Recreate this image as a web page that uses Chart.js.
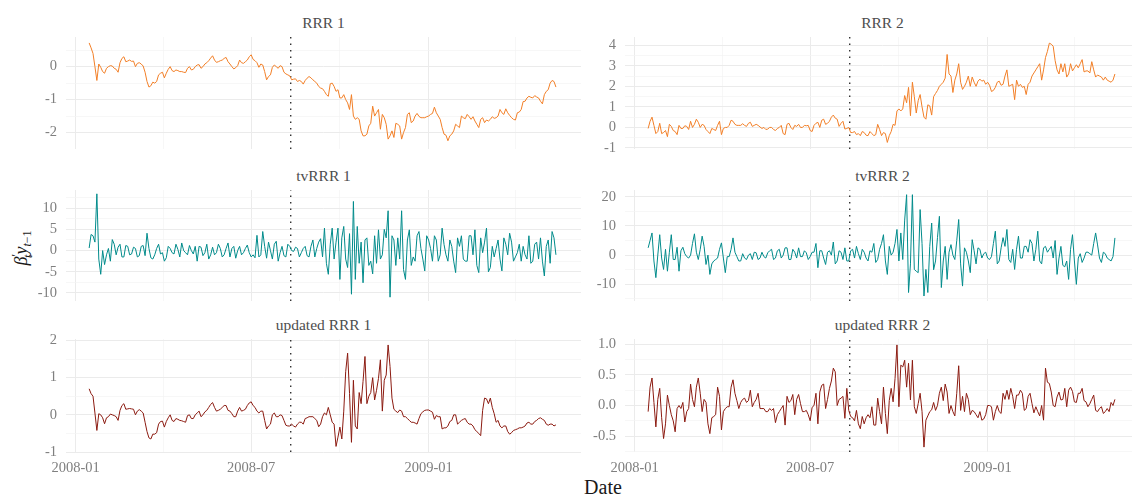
<!DOCTYPE html>
<html>
<head>
<meta charset="utf-8">
<script src="https://cdn.jsdelivr.net/npm/chart.js@4.4.1/dist/chart.umd.min.js"></script>
<style>
  body { margin: 0; width: 1132px; height: 495px; overflow: hidden; background: #fff; position: relative; font-family: 'Liberation Serif', serif; }
  canvas { position: absolute; }
  .ptitle { position: absolute; font-size: 15.5px; color: #4d4d4d; transform: translate(-50%, -50%); white-space: nowrap; }
  #xlab { position: absolute; left: 603px; top: 487px; transform: translate(-50%, -50%); font-size: 20px; color: #1a1a1a; }
  #ylab { position: absolute; left: 22px; top: 248px; transform: translate(-50%, -50%) rotate(-90deg); font-size: 18px; color: #1a1a1a; white-space: nowrap; }
  #ylab sub, #ylab sup { font-size: 12px; }
</style>
</head>
<body>
<div id="titles"></div>
<div id="xlab">Date</div>
<div id="ylab"><i>β</i><sup>′</sup><sub style="margin-left:-4px"><i>t</i></sub><i>y</i><sub><i>t</i>−1</sub></div>

<script>
// dates: days since 2008-01-01, one value every 2 days
const startDay = 14;
const stepDays = 2;
const breakDay = 223;

const xMajor = [0, 182, 366];
const xMinor = [91, 274, 456];
const xLabels = ['2008-01', '2008-07', '2009-01'];

const rrr1 = [0.72,0.57, 0.4,0.0, -0.42,0.08, -0.02,-0.15, -0.2,-0.05,
  0.0,0.03, 0.02,-0.05, -0.08,-0.17, 0.12,0.25, 0.3,0.15,
  0.17,0.2, 0.16,0.17, 0.0,0.1, 0.12,0.08, 0.02,-0.17,
  -0.45,-0.62, -0.58,-0.47, -0.5,-0.45, -0.25,-0.2, -0.17,-0.34,
  -0.2,-0.08, 0.0,-0.12, -0.15,-0.1, -0.12,-0.15, -0.15,-0.17,
  -0.18,-0.05, 0.0,-0.1, -0.08,0.0, 0.05,0.06, -0.05,0.0,
  0.08,0.12, 0.18,0.26, 0.33,0.2, 0.13,0.15, 0.18,0.2,
  0.25,0.28, 0.15,0.08, 0.0,-0.07, -0.03,0.03, 0.2,0.12,
  0.1,0.15, 0.2,0.3, 0.36,0.22, 0.18,0.12, -0.02,0.08,
  0.05,-0.15, -0.4,-0.3, -0.25,-0.02, 0.05,0.0, -0.05,0.03,
  0.0,-0.17, -0.22,-0.25, -0.28,-0.4, -0.38,-0.37, -0.45,-0.42,
  -0.45,-0.53, -0.42,-0.35, -0.3,-0.34, -0.4,-0.45, -0.5,-0.6,
  -0.65,-0.67, -0.75,-0.85, -0.9,-0.52, -0.5,-0.6, -0.75,-0.7,
  -0.95,-0.95, -0.85,-1.0, -1.1,-1.3, -0.85,-1.5, -1.6,-1.55,
  -1.6,-1.95, -2.1,-2.1, -2.05,-1.8, -1.72,-1.2, -1.5,-1.4,
  -1.3,-1.9, -1.45,-1.55, -1.75,-2.2, -2.1,-1.95, -2.15,-1.72,
  -1.75,-1.8, -2.2,-2.0, -1.85,-1.45, -1.4,-1.7, -1.65,-1.5,
  -1.42,-1.51, -1.55,-1.55, -1.55,-1.52, -1.5,-1.45, -1.42,-1.23,
  -1.4,-1.5, -1.6,-1.85, -2.05,-2.08, -2.25,-2.1, -2.05,-1.95,
  -1.75,-1.8, -1.85,-1.5, -1.55,-1.58, -1.45,-1.52, -1.6,-1.52,
  -1.65,-1.75, -1.85,-1.6, -1.55,-1.7, -1.62,-1.65, -1.6,-1.52,
  -1.57,-1.55, -1.5,-1.3, -1.4,-1.45, -1.28,-1.4, -1.48,-1.55,
  -1.6,-1.62, -1.4,-1.38, -1.3,-1.06, -1.05,-0.95, -0.9,-0.93,
  -0.95,-0.88, -0.92,-0.95, -1.05,-1.13, -0.85,-0.75, -0.7,-0.5,
  -0.42,-0.45, -0.62];

const rrr2 = [-0.05,0.3, 0.5,0.1, -0.3,-0.2, 0.2,-0.3, -0.25,-0.15,
  -0.45,0.15, 0.05,-0.15, -0.2,-0.35, 0.1,-0.05, -0.05,0.08,
  0.05,-0.1, 0.3,0.0, 0.15,0.4, 0.25,0.0, 0.15,0.1,
  -0.1,-0.2, -0.3,-0.05, -0.1,-0.15, 0.1,0.3, -0.35,-0.05,
  0.0,0.0, 0.1,0.35, 0.3,0.15, 0.1,0.1, 0.1,0.18,
  0.1,0.05, 0.2,0.25, 0.05,0.1, 0.15,0.1, 0.02,-0.05,
  0.0,-0.1, -0.08,0.0, 0.0,-0.1, -0.15,-0.05, 0.0,0.1,
  -0.3,-0.35, 0.15,0.2, 0.0,-0.1, 0.1,0.05, 0.15,0.0,
  0.0,0.1, 0.08,0.1, -0.15,-0.2, 0.1,0.2, 0.25,0.0,
  0.35,0.4, 0.15,0.2, 0.3,0.5, 0.6,0.45, 0.4,0.05,
  0.2,0.3, -0.08,-0.05, 0.0,-0.25, -0.25,-0.2, -0.35,-0.3,
  -0.4,-0.2, -0.25,-0.38, -0.4,-0.2, -0.3,-0.4, -0.35,0.15,
  -0.1,-0.4, -0.25,-0.3, -0.73,-0.4, -0.2,0.15, 0.1,0.8,
  0.9,0.8, 0.9,1.55, 1.2,1.95, 0.57,2.2, 1.5,0.7,
  1.3,1.6, 1.0,0.5, 0.4,1.1, 1.05,0.6, 1.5,1.65,
  1.8,2.0, 2.1,2.2, 2.4,3.55, 2.6,2.5, 1.7,2.3,
  2.6,3.1, 2.2,1.85, 2.0,2.2, 2.5,2.0, 2.45,2.2,
  2.0,2.25, 2.35,2.25, 2.3,2.1, 2.2,2.05, 1.75,1.8,
  1.95,2.2, 2.25,2.05, 2.1,2.5, 2.8,2.0, 2.05,2.1,
  1.35,2.3, 2.0,2.1, 1.95,2.0, 1.6,2.1, 2.2,2.5,
  2.65,2.8, 2.95,3.1, 2.3,2.8, 3.4,3.7, 4.1,4.05,
  3.95,3.25, 2.8,2.6, 3.1,2.7, 3.1,2.45, 2.6,3.1,
  2.75,2.9, 3.05,2.9, 3.1,3.3, 2.7,2.75, 2.75,2.65,
  3.2,2.8, 2.45,2.55, 2.5,2.45, 2.3,2.45, 2.3,2.25,
  2.2,2.3, 2.6];

const tvrrr1 = [0.6,3.8, 3.5,2.0, 13.4,-2.0, -5.6,0.0, -3.3,-1.0,
  0.5,-2.5, 2.6,1.5, -1.0,0.8, 1.5,-1.5, -1.5,1.2,
  1.0,-1.0, -0.8,0.8, 0.5,-1.5, -1.2,1.0, 1.2,-1.2,
  4.1,0.5, -1.7,-2.0, -1.0,0.5, 1.5,-0.8, -0.5,-2.5,
  -1.7,1.0, 0.5,-0.5, -0.8,1.5, 0.3,-1.5, 1.8,0.0,
  -0.5,-1.0, 1.2,0.0, -0.8,1.0, -2.5,1.0, 0.8,-1.2,
  -0.5,1.5, -2.0,-1.0, 0.8,-1.0, -0.5,1.5, 0.5,-1.5,
  -1.0,0.5, 1.8,-1.5, 0.5,1.0, -1.8,0.0, 1.0,-1.0,
  -0.5,0.5, 1.3,-0.5, -1.5,-1.0, -1.7,3.6, -1.5,-1.0,
  4.5,1.0, -1.8,2.0, 0.0,-2.0, 1.5,2.2, -2.5,-0.5,
  1.0,-1.2, -1.5,1.5, 1.0,0.0, -0.2,0.8, 0.5,-1.5,
  -0.5,0.5, 1.0,-1.2, -1.5,1.0, 2.5,-1.5, 0.5,2.0,
  2.8,-1.5, 5.3,-3.0, -5.6,1.5, 5.3,-2.0, 2.0,5.3,
  -6.8,3.0, 5.7,-2.0, -4.0,4.0, -10.3,11.6, -6.8,5.7,
  -3.0,2.0, -7.6,2.5, 3.0,-3.5, -2.5,-5.5, 3.5,-3.0,
  4.9,-2.0, -1.0,5.0, 3.0,9.4, -11.0,3.5, 2.5,-3.5,
  3.0,-2.0, 9.4,-4.5, -6.8,2.5, 4.9,-3.5, -1.5,-2.5,
  3.5,4.5, 0.5,-2.0, -4.8,3.5, 2.5,0.5, -2.5,3.5,
  2.5,-2.5, -1.0,5.3, 1.4,-1.0, -2.5,2.5, 1.0,-2.5,
  -5.2,3.0, 1.0,3.5, -2.0,-2.5, -2.5,3.5, 3.5,-1.0,
  4.9,-3.5, -5.2,3.0, -0.5,2.0, 5.3,-5.0, -4.0,1.0,
  -1.5,0.5, 2.5,-2.0, -4.8,3.0, 1.5,-1.0, 4.1,2.0,
  -2.5,-1.5, -0.5,1.5, -2.5,1.0, -1.0,-2.0, 3.5,-3.0,
  -2.5,1.5, 2.0,-2.0, 3.0,-2.5, -6.0,1.0, 2.5,-3.0,
  4.5,3.0, -1.0];

const tvrrr2 = [2.5,5.0, 7.6,-2.0, -7.7,0.0, 7.0,-1.0, -4.9,2.0,
  -5.5,1.0, 7.0,-1.5, -1.5,2.7, -5.5,1.5, 2.7,0.5,
  -0.5,-1.0, 0.0,4.0, 7.3,1.0, -1.5,2.0, 6.5,3.0,
  -3.2,0.0, -6.6,-3.0, -2.0,-1.5, -1.0,2.0, 4.2,-1.0,
  -6.0,-0.5, -0.5,2.0, 5.9,1.0, -0.5,-2.0, -2.0,0.5,
  -1.0,-1.5, 0.0,0.5, -1.5,1.0, 0.8,-1.5, -1.0,1.0,
  -0.5,-1.0, 0.8,1.5, 2.0,-1.5, -1.0,1.5, 2.0,-1.0,
  0.0,2.5, 2.5,-1.5, -1.5,2.0, 1.0,-1.0, 2.5,-0.5,
  -0.5,1.5, 0.8,-1.5, -0.5,1.0, 1.0,4.0, -4.3,1.5,
  1.5,-1.0, -3.2,1.0, 1.5,0.0, 4.5,-3.0, -2.0,1.5,
  1.0,-1.5, 2.5,-2.0, -2.0,1.5, 2.0,-1.0, 3.0,0.5,
  -1.5,2.0, 1.0,-1.0, -2.0,1.5, 1.0,4.0, -2.5,-1.5,
  2.0,4.0, 7.0,-2.0, -6.6,3.0, 0.0,1.0, 4.0,8.8,
  -2.0,7.6, -1.5,12.0, 20.7,-12.8, -3.0,20.7, -4.9,-5.5,
  -6.0,15.6, 4.0,-14.0, -4.9,-12.8, 3.0,11.0, -5.0,-2.0,
  6.0,13.3, -11.1,-2.0, 3.0,-8.3, 1.0,3.6, 0.0,-1.5,
  5.0,12.2, -3.0,-10.6, 2.5,1.0, -2.0,-6.0, 5.3,1.5,
  -3.0,2.5, 2.0,-1.0, 0.5,1.0, -1.0,-1.5, -0.5,4.0,
  8.2,-3.0, -2.0,2.5, 6.0,3.0, 8.8,-1.5, -2.5,2.0,
  -4.9,2.0, 6.5,-1.0, -1.0,3.0, 3.0,1.0, 5.3,4.0,
  -2.0,2.0, 8.2,-2.0, -3.0,2.5, 3.0,1.0, 2.0,3.0,
  -1.0,5.0, -6.6,-1.0, 3.0,-3.5, -4.0,-2.0, -8.3,2.0,
  7.0,-2.0, -10.0,-1.0, 0.5,-2.5, -1.0,1.0, 1.0,0.5,
  0.0,4.0, 7.6,3.5, -1.0,-2.5, 1.0,0.5, -1.0,-1.5,
  -2.0,-0.5, 5.9];

const updRrr1 = [0.7,0.57, 0.5,0.05, -0.42,0.03, 0.0,-0.08, -0.24,-0.08,
  -0.05,0.02, 0.0,-0.02, -0.05,-0.15, 0.12,0.25, 0.3,0.15,
  0.16,0.17, 0.16,0.15, 0.0,0.1, 0.14,0.1, 0.05,-0.2,
  -0.45,-0.62, -0.65,-0.52, -0.52,-0.48, -0.25,-0.18, -0.17,-0.33,
  -0.18,-0.08, 0.0,-0.15, -0.18,-0.1, -0.12,-0.15, -0.16,-0.18,
  -0.2,-0.02, 0.0,-0.1, -0.1,0.0, 0.05,0.1, -0.05,0.0,
  0.08,0.12, 0.2,0.28, 0.33,0.2, 0.1,0.12, 0.15,0.2,
  0.25,0.25, 0.12,0.1, 0.03,-0.05, -0.05,0.1, 0.2,0.1,
  0.12,0.15, 0.25,0.32, 0.35,0.25, 0.2,0.1, 0.05,0.1,
  0.1,-0.15, -0.38,-0.3, -0.25,0.0, 0.05,-0.05, -0.05,0.0,
  -0.02,-0.15, -0.28,-0.3, -0.3,-0.25, -0.3,-0.33, -0.25,-0.2,
  -0.2,-0.25, -0.1,-0.08, -0.05,-0.05, -0.05,-0.1, -0.15,-0.32,
  -0.25,-0.05, 0.05,0.0, 0.2,0.0, -0.2,-0.25, -0.85,-0.6,
  -0.33,-0.65, 0.1,1.16, 1.66,0.57, -0.74,0.93, -0.3,-0.38,
  0.6,0.3, 0.9,1.57, 0.3,0.5, 0.6,1.0, 0.4,0.66,
  0.98,1.48, 0.1,0.93, 1.07,1.88, 1.3,0.45, 0.15,0.1,
  0.06,0.13, 0.1,-0.05, -0.05,-0.1, -0.15,-0.2, -0.2,-0.22,
  -0.25,-0.1, 0.03,0.08, 0.12,0.13, 0.13,0.1, 0.07,-0.12,
  -0.02,-0.05, -0.05,-0.38, -0.35,-0.35, -0.3,-0.18, -0.15,0.0,
  0.0,-0.25, -0.2,-0.15, -0.12,-0.1, -0.2,-0.25, -0.25,-0.3,
  -0.4,-0.45, -0.5,-0.56, 0.12,0.45, 0.43,0.3, 0.45,0.2,
  0.03,-0.2, -0.15,-0.3, -0.35,-0.3, -0.3,-0.45, -0.52,-0.48,
  -0.42,-0.4, -0.38,-0.35, -0.35,-0.33, -0.3,-0.22, -0.2,-0.25,
  -0.25,-0.18, -0.15,-0.1, -0.08,-0.12, -0.15,-0.25, -0.28,-0.25,
  -0.25,-0.3, -0.27];

const updRrr2 = [-0.1,0.3, 0.45,0.05, -0.35,0.1, 0.28,-0.2, -0.54,-0.3,
  0.17,0.0, -0.15,-0.25, -0.43,-0.05, 0.0,-0.05, 0.05,-0.27,
  -0.1,-0.05, 0.35,0.1, -0.02,0.3, 0.45,0.2, -0.1,0.1,
  0.05,-0.3, -0.46,-0.2, -0.18,-0.15, 0.3,0.15, -0.4,-0.1,
  -0.05,-0.02, -0.02,0.3, 0.42,0.2, 0.08,-0.05, 0.05,0.1,
  0.12,0.05, 0.08,0.25, -0.02,0.05, 0.1,0.2, -0.05,-0.05,
  -0.05,-0.1, -0.1,-0.05, -0.08,-0.05, -0.28,-0.15, -0.1,-0.05,
  0.0,-0.32, 0.15,0.05, 0.08,0.18, -0.15,0.1, 0.18,0.03,
  -0.1,-0.1, -0.08,-0.15, -0.25,-0.03, 0.0,0.2, -0.3,0.22,
  0.33,0.35, -0.05,0.1, 0.28,0.4, 0.61,0.55, 0.0,0.1,
  0.12,0.15, -0.21,0.28, -0.08,-0.18, -0.2,-0.25, -0.08,-0.3,
  -0.38,-0.18, -0.3,-0.2, -0.15,-0.2, -0.02,-0.32, -0.32,0.12,
  -0.1,-0.3, 0.3,-0.13, -0.46,0.08, 0.28,0.06, 0.44,0.99,
  -0.02,0.66, 0.63,0.74, 0.3,0.69, 0.09,0.74, -0.02,-0.13,
  0.03,0.2, -0.1,-0.68, -0.24,-0.17, -0.1,-0.07, 0.05,-0.08,
  0.0,0.2, 0.3,0.08, 0.35,0.22, -0.13,0.0, -0.1,-0.17,
  0.2,0.65, -0.08,0.15, -0.1,0.2, 0.1,-0.15, -0.08,-0.1,
  -0.15,-0.2, -0.1,-0.24, -0.22,-0.15, 0.0,0.0, -0.02,-0.24,
  -0.1,0.0, -0.1,-0.13, 0.2,0.1, 0.25,0.1, 0.28,0.15,
  -0.05,0.17, 0.17,0.25, 0.2,-0.08, -0.05,0.15, 0.2,0.03,
  -0.12,-0.02, -0.1,-0.17, 0.0,-0.24, 0.61,0.38, 0.36,0.22,
  0.0,-0.02, 0.14,0.22, 0.09,0.1, 0.28,-0.02, 0.25,0.3,
  0.23,0.06, 0.05,0.2, 0.2,0.28, 0.08,0.06, -0.02,0.03,
  0.1,0.17, -0.08,-0.1, -0.05,-0.02, -0.13,-0.1, -0.05,-0.1,
  0.05,0.0, 0.1];

const orange = '#f27f27';
const teal = '#008b8b';
const darkRed = '#8b1a10';

// panel layout: column lefts / axis widths, row tops / plot heights
const colLeft = [0, 560], axisW = [66, 65], plotW = 515;
const rowTop = [37, 190, 339], plotH = [112, 111, 113], xAxisH = [0, 0, 28];
const pad = 20;

const panels = [
  { title: 'RRR 1', data: rrr1, color: orange, col: 0, row: 0, min: -2.5, max: 0.9, majors: [-2, -1, 0], minors: [-1.5, -0.5, 0.5], fmt: v => String(v) },
  { title: 'RRR 2', data: rrr2, color: orange, col: 1, row: 0, min: -1.05, max: 4.4, majors: [-1, 0, 1, 2, 3, 4], minors: [-0.5, 0.5, 1.5, 2.5, 3.5], fmt: v => String(v) },
  { title: 'tvRRR 1', data: tvrrr1, color: teal, col: 0, row: 1, min: -11.9, max: 14.3, majors: [-10, -5, 0, 5, 10], minors: [-7.5, -2.5, 2.5, 7.5, 12.5], fmt: v => String(v) },
  { title: 'tvRRR 2', data: tvrrr2, color: teal, col: 1, row: 1, min: -15.7, max: 22.3, majors: [-10, 0, 10, 20], minors: [-15, -5, 5, 15], fmt: v => String(v) },
  { title: 'updated RRR 1', data: updRrr1, color: darkRed, col: 0, row: 2, min: -1.0, max: 2.04, majors: [-1, 0, 1, 2], minors: [-0.5, 0.5, 1.5], fmt: v => String(v) },
  { title: 'updated RRR 2', data: updRrr2, color: darkRed, col: 1, row: 2, min: -0.76, max: 1.087, majors: [-0.5, 0, 0.5, 1.0], minors: [-0.75, -0.25, 0.25, 0.75], fmt: v => v.toFixed(1) }
];

Chart.defaults.font.family = "'Liberation Serif', serif";
Chart.defaults.font.size = 14.5;
Chart.defaults.color = '#7f7f7f';

function gridColor(majors) {
  return ctx => majors.includes(ctx.tick.value) ? '#ebebeb' : '#f3f3f3';
}
function gridWidth(majors) {
  return ctx => majors.includes(ctx.tick.value) ? 1 : 0.7;
}

function makePanel(p) {
  const canvas = document.createElement('canvas');
  const w = axisW[p.col] + plotW + 4;
  // layout padding sits on both sides; the x axis box is added below the bottom padding
  const h = pad + plotH[p.row] + pad + xAxisH[p.row];
  canvas.width = w;
  canvas.height = h;
  canvas.style.left = colLeft[p.col] + 'px';
  canvas.style.top = (rowTop[p.row] - pad) + 'px';
  document.body.appendChild(canvas);

  const t = document.createElement('div');
  t.className = 'ptitle';
  t.textContent = p.title;
  t.style.left = (colLeft[p.col] + axisW[p.col] + plotW / 2) + 'px';
  t.style.top = (rowTop[p.row] - 14) + 'px';
  document.getElementById('titles').appendChild(t);

  const points = p.data.map((v, i) => ({ x: startDay + i * stepDays, y: v }));
  const showX = p.row === 2;

  new Chart(canvas, {
    type: 'line',
    data: {
      datasets: [
        { data: points, borderColor: p.color, borderWidth: 1, pointRadius: 0, tension: 0 },
        { data: [{ x: breakDay, y: p.min }, { x: breakDay, y: p.max }], borderColor: '#333333', borderWidth: 1.4, borderDash: [1.5, 5], pointRadius: 0 }
      ]
    },
    options: {
      responsive: false,
      animation: false,
      layout: { padding: { top: pad, bottom: pad, left: 0, right: 4 } },
      plugins: { legend: { display: false }, tooltip: { enabled: false } },
      scales: {
        x: {
          type: 'linear',
          min: -10,
          max: 524,
          afterBuildTicks: s => { s.ticks = [...xMajor, ...xMinor].sort((a, b) => a - b).map(v => ({ value: v })); },
          afterFit: s => { s.height = xAxisH[p.row]; },
          ticks: {
            display: showX,
            padding: 7,
            maxRotation: 0,
            autoSkip: false,
            callback: v => { const k = xMajor.indexOf(v); return k >= 0 ? xLabels[k] : ''; }
          },
          grid: { color: gridColor(xMajor), lineWidth: gridWidth(xMajor), drawTicks: false },
          border: { display: false }
        },
        y: {
          min: p.min,
          max: p.max,
          afterBuildTicks: s => { s.ticks = [...p.majors, ...p.minors].sort((a, b) => a - b).map(v => ({ value: v })); },
          afterFit: s => { s.width = axisW[p.col]; },
          ticks: {
            padding: 9,
            autoSkip: false,
            callback: v => p.majors.includes(v) ? p.fmt(v) : ''
          },
          grid: { color: gridColor(p.majors), lineWidth: gridWidth(p.majors), drawTicks: false },
          border: { display: false }
        }
      }
    }
  });
}

panels.forEach(makePanel);
</script>
</body>
</html>
